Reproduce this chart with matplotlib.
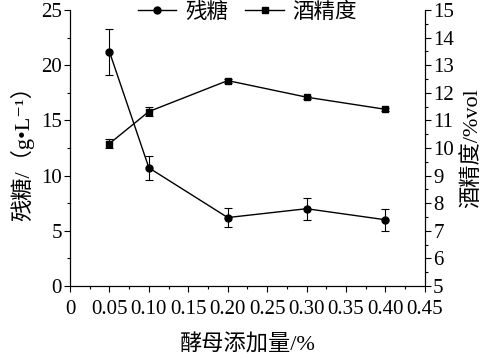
import numpy as np
import matplotlib
matplotlib.use("Agg")
import matplotlib.pyplot as plt
from matplotlib.ticker import MultipleLocator
from matplotlib.lines import Line2D

plt.rcParams['font.family'] = ['Liberation Serif', 'Noto Sans CJK SC', 'DejaVu Sans']

# yeast addition (%)
dose = [0.05, 0.10, 0.20, 0.30, 0.40]
sugar = [21.2, 10.7, 6.2, 7.0, 6.0]
sugar_err = [2.1, 1.1, 0.9, 1.0, 1.0]
alcohol = [10.16, 11.32, 12.44, 11.84, 11.40]
alcohol_err = [0.15, 0.15, 0.07, 0.05, 0.05]
xticks = [0, 0.05, 0.10, 0.15, 0.20, 0.25, 0.30, 0.35, 0.40, 0.45]
xticklabels = ['0', '0.05', '0.10', '0.15', '0.20', '0.25', '0.30', '0.35', '0.40', '0.45']

fig = plt.figure(figsize=(4.9, 3.54), dpi=100)
ax = fig.add_axes([0.143, 0.192, 0.724, 0.780])
ax2 = ax.twinx()

ax.errorbar(dose, sugar, yerr=sugar_err, color='black', marker='o', ms=5,
            lw=1, elinewidth=0.8, capsize=3, capthick=0.8)
ax2.errorbar(dose, alcohol, yerr=alcohol_err, color='black', marker='s', ms=4.5,
             lw=1, elinewidth=0.8, capsize=3, capthick=0.8)

ax.set_xlim(0, 0.45)
ax.set_ylim(0, 25)
ax2.set_ylim(5, 15)
ax.set_xticks(xticks)
ax.set_xticklabels(xticklabels)
ax.xaxis.set_minor_locator(MultipleLocator(0.025))
ax.yaxis.set_major_locator(MultipleLocator(5))
ax.yaxis.set_minor_locator(MultipleLocator(2.5))
ax2.yaxis.set_major_locator(MultipleLocator(1))
ax2.yaxis.set_minor_locator(MultipleLocator(0.5))

for a in (ax, ax2):
    a.spines['top'].set_visible(False)
    a.tick_params(which='major', length=4, width=0.8, labelsize=15, pad=2)
    a.tick_params(which='minor', length=2, width=0.8)
ax.tick_params(axis='x', pad=6)

ax.set_xlabel('酵母添加量/%', fontsize=16, labelpad=11)
ax.set_ylabel('残糖/（g•L⁻¹）', fontsize=16, labelpad=5)
ax2.set_ylabel('酒精度/%vol', fontsize=16, labelpad=5)

h1 = Line2D([], [], color='black', marker='o', ms=5, lw=1)
h2 = Line2D([], [], color='black', marker='s', ms=4.5, lw=1)
ax.legend(handles=[h1, h2], labels=['残糖', '酒精度'], loc='center',
          bbox_to_anchor=(0.5, 0.99), ncol=2, frameon=False, fontsize=15.5,
          handlelength=1.8, columnspacing=0.8, handletextpad=0.4, borderpad=0)

fig.savefig('out.png', dpi=100)
